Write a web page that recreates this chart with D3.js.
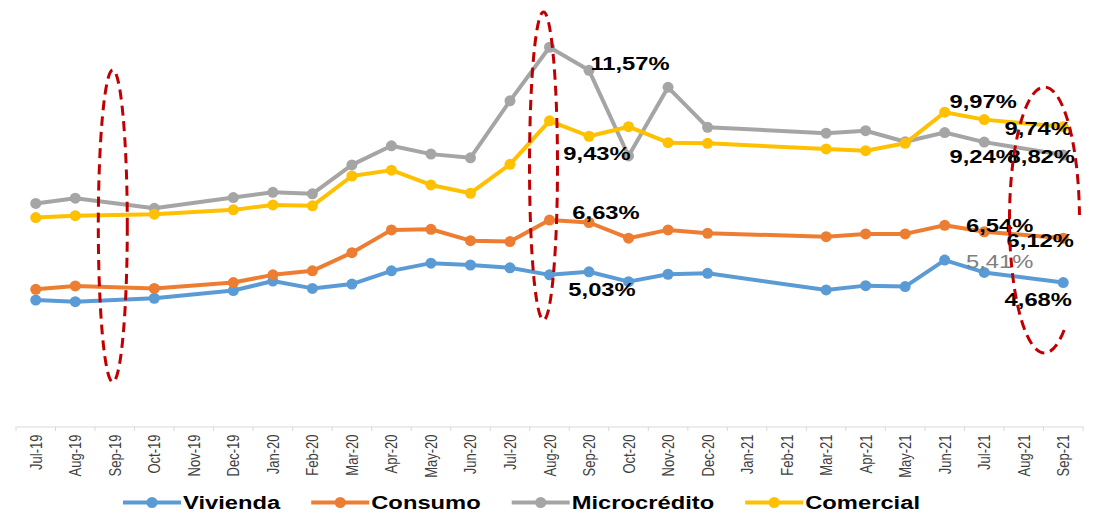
<!DOCTYPE html>
<html>
<head>
<meta charset="utf-8">
<script src="https://cdn.jsdelivr.net/npm/d3@7"></script>
<style>
  body { margin: 0; background: #fff; }
  svg { display: block; font-family: "Liberation Sans", Arial, sans-serif; }
</style>
</head>
<body>
<svg width="1096" height="513"></svg>
<script>
var months = ["Jul-19", "Aug-19", "Sep-19", "Oct-19", "Nov-19", "Dec-19", "Jan-20", "Feb-20", "Mar-20",
  "Apr-20", "May-20", "Jun-20", "Jul-20", "Aug-20", "Sep-20", "Oct-20", "Nov-20", "Dec-20", "Jan-21",
  "Feb-21", "Mar-21", "Apr-21", "May-21", "Jun-21", "Jul-21", "Aug-21", "Sep-21"];

var seriesNames = ["Vivienda", "Consumo", "Microcrédito", "Comercial"];

var vivienda = [4.11, 4.06, null, 4.17, null, 4.42, 4.73, 4.49, 4.63, 5.06, 5.31, 5.25, 5.16, 4.93,
  5.03, 4.71, 4.95, 4.98, null, null, 4.44, 4.58, 4.55, 5.41, 5.01, null, 4.68];
var consumo = [4.46, 4.57, null, 4.49, null, 4.68, 4.93, 5.06, 5.65, 6.39, 6.41, 6.04, 6.01, 6.71,
  6.63, 6.12, 6.39, 6.28, null, null, 6.17, 6.26, 6.26, 6.54, 6.33, null, 6.12];
var microcredito = [7.25, 7.42, null, 7.09, null, 7.44, 7.61, 7.56, 8.50, 9.12, 8.85, 8.73, 10.58, 12.32,
  11.57, 8.79, 11.02, 9.72, null, null, 9.53, 9.61, 9.25, 9.55, 9.24, null, 8.82];
var comercial = [6.79, 6.85, null, 6.90, null, 7.04, 7.20, 7.17, 8.14, 8.33, 7.85, 7.58, 8.52, 9.93,
  9.43, 9.74, 9.22, 9.20, null, null, 9.02, 8.96, 9.20, 10.21, 9.97, null, 9.74];

// value labels shown on the chart: series, month, text
var labelSeries = ["Microcrédito", "Comercial", "Consumo", "Vivienda", "Comercial", "Microcrédito",
  "Comercial", "Microcrédito", "Consumo", "Consumo", "Vivienda", "Vivienda"];
var labelMonths = ["Sep-20", "Sep-20", "Sep-20", "Sep-20", "Jul-21", "Jul-21",
  "Sep-21", "Sep-21", "Jun-21", "Sep-21", "Jun-21", "Sep-21"];
var labelTexts = ["11,57%", "9,43%", "6,63%", "5,03%", "9,97%", "9,24%",
  "9,74%", "8,82%", "6,54%", "6,12%", "5,41%", "4,68%"];

var colors = ["#5B9BD5", "#ED7D31", "#A5A5A5", "#FFC000"];
var values = [vivienda, consumo, microcredito, comercial];

var svg = d3.select("svg");
var stretch = 1.32;

var x = d3.scaleBand().domain(months).range([16, 1083]);
var y = d3.scaleLinear().domain([0, 13]).range([426.7, 26.3]);
var cx = function (m) { return x(m) + x.bandwidth() / 2; };

// axis
var axis = svg.append("g").attr("transform", "translate(0,426.5)")
  .call(d3.axisBottom(x).tickSize(0).tickSizeOuter(0));
axis.select(".domain").attr("stroke", "#D9D9D9");
axis.selectAll("text")
  .attr("x", 0).attr("y", 0).attr("dy", "0.35em")
  .attr("text-anchor", "end")
  .attr("transform", "translate(0,8) scale(" + stretch + ",1) rotate(-90)")
  .attr("font-size", 13)
  .attr("font-family", "Liberation Sans, Arial, sans-serif")
  .attr("fill", "#404040");

svg.append("g").selectAll("line")
  .data(months.concat(["end"]))
  .enter().append("line")
  .attr("x1", function (d, i) { return x.range()[0] + i * x.step(); })
  .attr("x2", function (d, i) { return x.range()[0] + i * x.step(); })
  .attr("y1", 426.5).attr("y2", 431)
  .attr("stroke", "#D9D9D9");

var line = d3.line()
  .x(function (d) { return cx(d.m); })
  .y(function (d) { return y(d.v); });

seriesNames.forEach(function (name, s) {
  var pts = months.map(function (m, i) { return { m: m, v: values[s][i] }; })
    .filter(function (d) { return d.v != null; });
  svg.append("path")
    .datum(pts)
    .attr("d", line)
    .attr("fill", "none")
    .attr("stroke", colors[s])
    .attr("stroke-width", 4)
    .attr("stroke-linejoin", "round");
  svg.append("g").selectAll("circle")
    .data(pts)
    .enter().append("circle")
    .attr("cx", function (d) { return cx(d.m); })
    .attr("cy", function (d) { return y(d.v); })
    .attr("r", 5.5)
    .attr("fill", colors[s]);
});

// label offsets from their point (text centre)
var labelOffsets = [[41, -7], [8, 17], [17, -10], [13, 18], [-1, -18], [-1, 15],
  [-25, 2], [-22, 2], [55, 0], [-23, 2], [55, 2], [-25, 17]];

labelTexts.forEach(function (t, i) {
  var s = seriesNames.indexOf(labelSeries[i]);
  var v = values[s][months.indexOf(labelMonths[i])];
  var px = cx(labelMonths[i]) + labelOffsets[i][0];
  var py = y(v) + labelOffsets[i][1];
  var grey = t === "5,41%";
  svg.append("g")
    .attr("transform", "translate(" + px + "," + py + ") scale(" + stretch + ",1)")
    .append("text")
    .attr("text-anchor", "middle")
    .attr("dy", "0.35em")
    .attr("font-size", 18)
    .attr("font-weight", grey ? "normal" : "bold")
    .attr("fill", grey ? "#7F7F7F" : "#000")
    .text(t);
});

// dashed highlight ellipses
var dash = { stroke: "#C00000", "stroke-width": 3, "stroke-dasharray": "10,6", fill: "none" };
function styled(sel) {
  Object.keys(dash).forEach(function (k) { sel.attr(k, dash[k]); });
  return sel;
}
styled(svg.append("ellipse")
  .attr("cx", cx("Sep-19") - 2).attr("cy", 226).attr("rx", 14.5).attr("ry", 156));
styled(svg.append("ellipse")
  .attr("cx", cx("Aug-20") - 6).attr("cy", 166).attr("rx", 14).attr("ry", 154));

var ex = (cx("Aug-21") + cx("Sep-21")) / 2 + 1, ey = 220, erx = 35, ery = 133;
var t0 = 0.973, t1 = -0.038;
styled(svg.append("path")
  .attr("d", "M" + (ex + erx * Math.cos(t0)) + "," + (ey + ery * Math.sin(t0)) +
    " A" + erx + "," + ery + " 0 1 1 " + (ex + erx * Math.cos(t1)) + "," + (ey + ery * Math.sin(t1))));

// legend
var legend = svg.append("g").attr("transform", "translate(123,502.5)");
var lx = 0;
seriesNames.forEach(function (name, s) {
  var g = legend.append("g").attr("transform", "translate(" + lx + ",0)");
  g.append("line").attr("x1", 0).attr("x2", 58).attr("stroke", colors[s]).attr("stroke-width", 4);
  g.append("circle").attr("cx", 29).attr("r", 5.5).attr("fill", colors[s]);
  var t = g.append("g").attr("transform", "translate(60,0) scale(" + stretch + ",1)")
    .append("text")
    .attr("dy", "0.35em")
    .attr("font-size", 18)
    .attr("font-weight", "bold")
    .attr("fill", "#000")
    .text(name);
  lx += 60 + t.node().getComputedTextLength() * stretch + 31;
});
</script>
</body>
</html>
